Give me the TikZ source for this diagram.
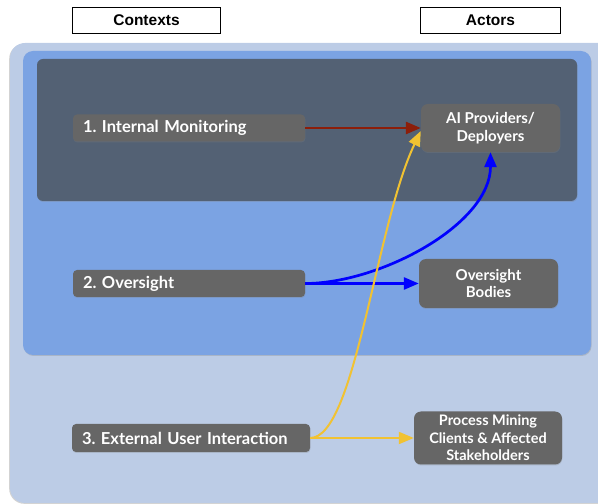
\documentclass[tikz,border=0pt]{standalone}
\usepackage{fontspec}
\setmainfont{Lato}
\newfontfamily\headfont{Liberation Sans}
\usetikzlibrary{arrows.meta,shadows}
\definecolor{outerbg}{RGB}{188,204,230}
\definecolor{midbg}{RGB}{123,163,227}
\definecolor{darkbg}{RGB}{83,97,116}
\definecolor{boxgray}{RGB}{102,102,102}
\definecolor{monred}{RGB}{140,30,10}
\definecolor{ovblue}{RGB}{0,0,255}
\definecolor{useryellow}{RGB}{241,194,50}
\frenchspacing
\tikzset{
  headbox/.style={draw=black, fill=white, line width=0.8pt, minimum height=26pt, inner sep=0pt,
    font=\headfont\bfseries\fontsize{15.5}{18}\selectfont},
  ctxbox/.style={fill=boxgray, text=white, rounded corners=4pt, minimum height=27pt, inner xsep=10pt,
    align=left, drop shadow={shadow xshift=0.4pt, shadow yshift=-1pt, opacity=0.3},
    font=\bfseries\fontsize{16.5}{20}\selectfont},
  actbox/.style={fill=boxgray, text=white, rounded corners=7pt, align=center, inner sep=0pt,
    drop shadow={shadow xshift=0.4pt, shadow yshift=-1pt, opacity=0.3},
    font=\bfseries\fontsize{15}{17.5}\selectfont},
  flow/.style={line width=2.7pt, -{Triangle[length=15pt,width=12pt]}}
}
\begin{document}
\begin{tikzpicture}[x=1pt, y=1pt]
    \useasboundingbox (0,0) rectangle (598,504);
    \fill[outerbg, rounded corners=15pt, drop shadow={shadow xshift=-0.8pt, shadow yshift=-0.8pt, opacity=0.35}] (10,1) rectangle (625,461);
    \fill[midbg, rounded corners=10pt, drop shadow={shadow xshift=0.6pt, shadow yshift=-1pt, opacity=0.3}] (23,149) rectangle (591,453);
    \fill[darkbg, rounded corners=6pt, drop shadow={shadow xshift=0.6pt, shadow yshift=-1pt, opacity=0.3}] (37,303) rectangle (577,445);
    \node[headbox, minimum width=148pt] (hctx) at (146.5,483.5) {Contexts};
    \node[headbox, minimum width=140pt] (hact) at (490.5,483.5) {Actors};
    \node[ctxbox, text width=212pt] (c1) at (189,376) {1. Internal Monitoring};
    \node[ctxbox, text width=212pt] (c2) at (189,220.5) {2. Oversight};
    \node[ctxbox, text width=218pt, minimum height=28pt] (c3) at (191,66) {3. External User Interaction};
    \node[actbox, minimum width=139pt, minimum height=48pt] (a1) at (490.5,376) {AI Providers/\\Deployers};
    \node[actbox, minimum width=139pt, minimum height=49pt] (a2) at (488.5,220.5) {Oversight\\Bodies};
    \node[actbox, minimum width=148pt, minimum height=53pt, font=\bfseries\fontsize{14.5}{17.5}\selectfont] (a3) at (488,66) {Process Mining\\Clients \& Affected\\Stakeholders};
    \draw[flow, monred] (c1.east) -- (a1.west);
    \draw[flow, ovblue] (c2.east) -- (a2.west);
    \draw[flow, ovblue] (c2.east) .. controls +(75,0) and +(0,-72) .. (a1.south);
    \draw[flow, useryellow, line width=2pt] (c3.east) -- (a3.west);
    \draw[flow, useryellow, line width=2pt] (c3.east) .. controls +(45,0) and +(-45,-94) .. ([yshift=-3pt]a1.west);
\end{tikzpicture}
\end{document}
